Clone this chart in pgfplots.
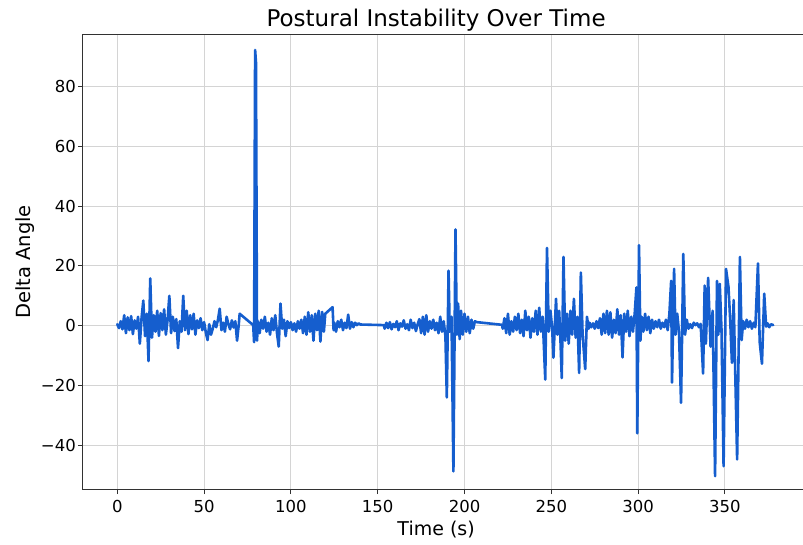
\documentclass[border=0pt]{standalone}
\usepackage{pgfplots}
\pgfplotsset{compat=1.18}
\usepackage{fontspec}
\setmainfont{DejaVu Sans}
\definecolor{mplblue}{RGB}{21,94,206}
\definecolor{spine}{RGB}{50,50,50}
\definecolor{gridc}{RGB}{212,212,212}
\begin{document}
\begin{tikzpicture}
\begin{axis}[
  at={(0,0)}, anchor=south west,
  scale only axis, width=760pt, height=454.6pt,
  xmin=-19.9, xmax=417.8, ymin=-54.7, ymax=97.3,
  xtick={0,50,100,150,200,250,300,350},
  xticklabels={0,50,100,150,200,250,300,350},
  ytick={-40,-20,0,20,40,60,80},
  yticklabels={−40,−20,0,20,40,60,80},
  xtick pos=lower, ytick pos=left,
  tick align=outside,
  major tick length=4.9pt,
  tick style={spine, line width=1pt},
  axis line style={spine, line width=1.1pt},
  grid=major,
  major grid style={gridc, line width=1pt},
  ticklabel style={font=\fontsize{16.5}{19}\selectfont},
  xticklabel style={yshift=-2.5pt},
  yticklabel style={xshift=1.5pt},
  title={Postural Instability Over Time},
  title style={at={(axis description cs:0.4650,1.0059)}, anchor=base, font=\fontsize{23}{27}\selectfont},
  xlabel={Time (s)},
  xlabel style={at={(axis description cs:0.4650,-0.1020)}, anchor=base, font=\fontsize{19}{23}\selectfont},
  ylabel={Delta Angle},
  ylabel style={at={(axis description cs:-0.0692,0.5)}, anchor=base, font=\fontsize{19.5}{23}\selectfont},
]
\addplot[mplblue, line width=2.6pt, line join=round, line cap=round] coordinates {
(0,0.5)(1,-0.8)(2,1.5)(3,-1.2)(4,3.5)(5,-2.5)(6,2.8)(7,-1.5)(8,3.2)(9,-2.8)
(10,1.8)(11,-1.0)(12,3.0)(13,-6.0)(14,2.5)(15,8.4)(16,-3.5)(17,4.0)(18,-11.8)(19,15.8)
(20,-4.0)(21,3.5)(22,-2.0)(23,5.0)(24,-3.4)(25,4.2)(26,-1.5)(27,5.5)(28,-3.0)(29,2.0)
(30,10.0)(31,-2.5)(32,3.0)(33,-1.8)(34,2.2)(35,-7.5)(36,1.5)(37,-2.0)(38,10.0)(39,-1.5)
(40,5.0)(41,-2.8)(42,3.5)(43,-1.2)(44,4.0)(45,-3.0)(46,1.8)(47,-0.8)(48,2.5)(49,-1.5)
(50,1.2)(51,-2.2)(52,-4.8)(53,0.5)(54,-3.0)(55,-1.0)(56,1.5)(57,-0.5)(58,2.0)(59,5.7)
(60,-1.5)(61,1.0)(62,-2.0)(63,3.0)(64,0.5)(65,-1.2)(66,1.8)(67,-0.6)(68,1.5)(69,-5.0)
(70,0.5)(70.5,4.0)(78.3,0.2)(78.8,-5.5)(79.4,92.2)(79.9,88)(80.5,-5.0)
(81,1.5)(82,-2.5)(83,2.0)(84,-1.0)(85,3.0)(86,-2.0)(87,1.0)(88,-3.0)(89,2.5)
(90,-1.5)(91,3.5)(92,-2.5)(93,-7.0)(94,7.4)(95,-1.0)(96,2.0)(97,-3.5)(98,1.5)(99,-0.8)
(100,1.2)(101,-1.5)(102,0.8)(103,-2.0)(104,1.5)(105,-1.0)(106,2.0)(107,-2.5)(108,3.0)(109,-3.0)
(110,4.5)(111,-2.0)(112,3.5)(113,-5.0)(114,4.0)(115,-1.5)(116,5.0)(117,-5.3)(118,4.6)(119,-2.0)
(119.8,4.0)(124,6.2)(124.6,-1.5)(125,1.0)(126,-2.0)(127,1.5)(128,-0.5)(129,2.0)
(130,-1.5)(131,1.0)(132,-0.8)(133,3.7)(134,-1.0)(135,1.2)(136,-0.5)(137,1.0)(138,0.2)(139,0.8)
(140,0.4)(153.5,0.2)
(154,-1.0)(155,1.0)(156,-0.8)(157,1.2)(158,-1.2)(159,0.6)
(160,-0.5)(161,1.5)(162,-1.5)(163,0.8)(164,-0.3)(165,1.8)(166,-1.0)(167,0.5)(168,-1.5)(169,2.0)
(170,-0.8)(171,1.0)(172,-1.8)(173,0.5)(174,2.2)(175,-2.5)(176,3.0)(177,-3.0)(178,3.5)(179,-2.0)
(180,1.5)(181,-1.0)(182,2.0)(183,-1.5)(184,1.0)(185,-2.5)(186,3.0)(187,-2.0)(188,1.5)(189,-3.5)
(189.8,-24)(190.8,18.4)(191.5,-2)(192.5,3)(193.6,-48.7)(194.8,32.2)(195.6,-3)(196.3,7.4)(197.2,-4.5)
(198,5)(199,-3)(200,4)(201,-2)(202,3)(203,-2.5)(204,2)(205,-1)(206,1.5)(207,1.2)
(221.6,0.3)
(222,-1.0)(223,2.5)(224,-2.5)(225,4.0)(226,-3.0)(227,1.5)(228,-2.0)(229,3.0)
(230,-1.5)(231,4.0)(232,-2.5)(233,2.0)(234,-3.5)(235,5.0)(236,-1.5)(237,3.0)(238,-4.0)(239,2.5)
(240,-2.0)(241,5.0)(242,-3.0)(243,6.0)(244,-2.0)(245,3.0)(246.5,-18)(247.5,26)(248.5,-2)(249.5,5)
(250.5,-1)(251.2,-10.7)(252.7,9)(253.5,-3)(254.5,5)(255.2,-4)(256,-17.5)(257,23)(258,-5)(259,4)
(260,-6)(261,5)(262,-3)(263,9)(264,-4)(265,3)(266,-15.8)(267,17.8)(268,-3)(269.5,-14.5)
(270.5,3)(271.5,-1)(272,1)(273,-0.5)(274,0.8)(275,-1)(276,1.5)(277,-0.8)(278,2.5)(279,-3.0)
(280,4.0)(281,-2.5)(282,5.0)(283,-3.0)(284,4.5)(285,-4.0)(286,2.0)(287,-2.5)(288,5.5)(289,-3.0)
(290,3.5)(291,-10.6)(292,4.0)(293,-2.0)(294,5.0)(295,-3.5)(296,3.0)(297,-2.0)(298,4.0)(299,12.8)
(299.5,-36)(300.5,26.9)(301.3,-5)(302,3)(303,-2)(304,4)(305,-1.5)(306,3)(307,-2.5)(308,2)(309,-1)
(310,1.5)(311,-0.5)(312,2)(313,-1)(314,1)(315,-0.5)(316,2)(317,-1.5)(318,4)(319,15)
(319.5,-19)(320.7,19)(321.5,-3)(322.5,4)(323.5,-2)(324.7,-25.8)(326,24)(327,-3)(328,2)(329,-1)
(330,0.5)(331,-0.8)(332,1)(333,0.2)(334,0.8)(335,-0.5)(336,0.6)(337.4,-16)(338.3,13.4)(339,-6)
(340.3,16)(341.7,-7)(342.9,5)(344.3,-50.3)(345.4,15)(346.2,-3)(347,14)(348,-1.4)(349.2,-47)(350.6,19)
(352,13)(353,2)(354,-12.4)(355,8.6)(357,-44.7)(358.6,23)(359.6,-4.8)(360.5,1.5)(361.5,-1)(362.5,2)
(363.5,-0.5)(364.5,1.5)(365.5,-1)(366.5,1)(367.5,-0.5)(369,20.8)(370,-5.5)(371.3,-12.7)(372.6,10.7)(373.7,-0.3)
(374.5,0.8)(375.5,-0.5)(376.5,0.5)(377.8,0.2)
};
\end{axis}
\pgfresetboundingbox
\path[use as bounding box] (-82.7pt,-54.7pt) rectangle (720.3pt,489.3pt);
\end{tikzpicture}
\end{document}
